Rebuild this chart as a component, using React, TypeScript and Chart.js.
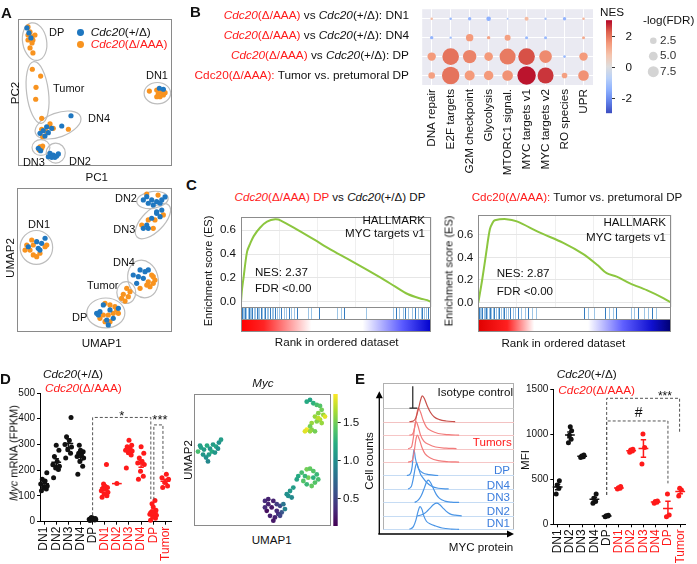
import React, { useEffect, useRef } from 'react';
import { Chart, registerables } from 'chart.js';

Chart.register(...registerables);

const FONT = '"Liberation Sans", Arial, Helvetica, sans-serif';
Chart.defaults.font.family = FONT;
Chart.defaults.color = '#111';

const BLUE = '#1f77c0';
const ORANGE = '#f8931f';
const RED = '#ff1a1a';
const INK = '#111111';
const LBLUE = '#3b7ddd';

// ================= A: PCA (scaled 0-100) =================
const pcaCtrl = [
  [5.8, 93.9], [7.1, 90.5], [8.4, 87.1],
  [34.4, 34.2], [28.4, 27.2], [18.6, 26.7], [16.4, 24], [14.3, 22.2], [17.5, 20.4], [21.9, 25.6], [19.7, 22.7],
  [14.7, 10.4], [13.2, 12],
  [20.8, 8.6], [22.9, 7.5], [25.1, 6.8], [19.7, 6.3], [26.2, 8.2], [21.9, 5.9], [24, 5.9],
  [91.8, 52.9], [94.4, 52.2],
];
const pcaMut = [
  [6.5, 94.6], [7.8, 91.2], [6.5, 89.1], [9.1, 87.8], [9.7, 85.7], [9.1, 83.7], [7.8, 80.3], [9.7, 76.9], [11, 89.1], [6.5, 85.7],
  [9.3, 65.8], [14.7, 61.2], [11.7, 53.5], [11.5, 45.4], [15.4, 32.4],
  [20.8, 28.6], [22.9, 25.6], [32.7, 25], [15.4, 25], [18.6, 23.4], [16, 20], [20.3, 26.9],
  [14.3, 13.1], [15.4, 12], [13.8, 10.9], [16, 13.6],
  [85.3, 51], [90.1, 51.7], [91.1, 49], [92.2, 47.1], [94.4, 48.3], [93.3, 50.5], [95.5, 49.9], [90.1, 47.1],
];
const pcaClusters = [
  { x: 10.8, y: 84.6, rx: 7.8, ry: 12.9, rot: -10 },
  { x: 12.7, y: 50, rx: 7.1, ry: 21.1, rot: -7 },
  { x: 26, y: 27.9, rx: 15.6, ry: 8.2, rot: -20 },
  { x: 14.9, y: 12.6, rx: 5.8, ry: 5.4, rot: 0 },
  { x: 24.5, y: 8.8, rx: 6.2, ry: 6.8, rot: 0 },
  { x: 90.5, y: 49.5, rx: 8.6, ry: 7.3, rot: 0 },
];
const pcaLabels = [
  { text: 'DP', x: 20.1, y: 90.5 }, { text: 'Tumor', x: 22.7, y: 52.4 }, { text: 'DN4', x: 45.5, y: 32 },
  { text: 'DN3', x: 3.2, y: 2 }, { text: 'DN2', x: 33.1, y: 2.7 }, { text: 'DN1', x: 83.1, y: 61.2 },
];

// ================= A: UMAP (scaled 0-100) =================
const umapCtrl = [
  [83.7, 94], [86.9, 91.7], [90.1, 90.5], [93.4, 91.7], [84.7, 89.4], [87.9, 88.2], [92.3, 89.4], [81.5, 91.7], [95.5, 93.8],
  [93.4, 84.7], [90.1, 82.4], [92.3, 80.1], [86.9, 79], [83.7, 74.3], [81.5, 72], [84.7, 72], [90.1, 83.5],
  [12.7, 62.7], [15.9, 61.6], [18.1, 65.1], [13.7, 58.1], [14.8, 56.9], [7.3, 59.2],
  [75, 39.6], [79.4, 43.1], [82.6, 41.9], [84.7, 43.1], [77.2, 33.8], [81.5, 37.3], [78.3, 38.4],
  [51.4, 13], [53.5, 14.1], [55.7, 18.8], [60, 15.3], [57.9, 8.3], [62.1, 9.5], [58.9, 4.9], [52.5, 11.8], [65.4, 16.5],
];
const umapMut = [
  [83.7, 95.8], [91, 95.1],
  [89, 77.8], [84.7, 77.8], [87.9, 72], [80.5, 74.3], [94.4, 81.3],
  [6.3, 60.4], [9.5, 63.9], [10.5, 60.4], [8.4, 56.9], [10.5, 53.5], [12.7, 52.3], [14.8, 54.7], [18.1, 59.2], [19.2, 60.4], [5.2, 56.9],
  [86.9, 39.6], [89, 36.1], [87.9, 33.8], [85.8, 31.5], [83.7, 32.6], [79.4, 30.3], [84.7, 34.9], [87.9, 38.4],
  [70.8, 30.3], [72.9, 28], [68.6, 26.2], [71.8, 24.5], [69.7, 21.5], [67.5, 23.4],
  [56.8, 19.9], [60, 18.8], [63.2, 17.6], [65.4, 13], [62.1, 13], [58.9, 11.8], [55.7, 11.8], [53.5, 9.5], [56.8, 7.2], [60, 7.2], [64.3, 15.3],
];
const umapClusters = [
  { x: 87.4, y: 91.7, rx: 10.2, ry: 5.9, rot: -8 },
  { x: 87.7, y: 77, rx: 14.5, ry: 7.5, rot: -45 },
  { x: 12.5, y: 58.7, rx: 10.5, ry: 11.8, rot: 0 },
  { x: 81.3, y: 36.8, rx: 9.7, ry: 13.2, rot: -15 },
  { x: 70.5, y: 27.4, rx: 6.1, ry: 7.6, rot: 0 },
  { x: 57.3, y: 13.2, rx: 12.3, ry: 10.4, rot: 0 },
];
const umapLabels = [
  { text: 'DN2', x: 63.2, y: 92.4 }, { text: 'DN3', x: 62.1, y: 70.8 }, { text: 'DN1', x: 7.1, y: 74.3 },
  { text: 'DN4', x: 61.9, y: 47.9 }, { text: 'Tumor', x: 45.2, y: 31.9 }, { text: 'DP', x: 35.5, y: 9.7 },
];

// ================= B: GSEA bubble matrix =================
const bPathways = ['DNA repair', 'E2F targets', 'G2M checkpoint', 'Glycolysis', 'MTORC1 signal.', 'MYC targets v1', 'MYC targets v2', 'RO species', 'UPR'];
const bNesDN1 = [0.9, -1.3, -1.4, -1.5, -1.0, 0.9, -1.1, -1.4, 1.0];
const bFdrDN1 = [0.9, 0.9, 1.3, 1.9, 0.6, 1.6, 0.8, 1.3, 0.9];
const bNesDN4 = [-1.4, -1.2, 1.5, 1.3, 1.4, -1.3, -1.3, 0, 1.2];
const bFdrDN4 = [1.3, 0.8, 3.3, 1.3, 2.6, 1.1, 1.1, null, 1.1];
const bNesDP = [1.5, 2.0, 1.8, 1.5, 1.9, 2.37, 1.7, -1.3, 1.5];
const bFdrDP = [3.8, 7.9, 6.3, 3.9, 7.6, 7.9, 5.9, 0.9, 3.8];
const bNesTumor = [1.4, 2.0, 1.5, 1.5, 1.6, 2.87, 2.6, 1.4, 1.6];
const bFdrTumor = [2.9, 8.3, 4.6, 4.3, 4.9, 8.8, 7.6, 2.4, 4.9];
const bSizeLegend = [2.5, 5.0, 7.5];
const bNesTicks = [2, 0, -2];

// ================= C: enrichment curves =================
const gseaDPRank = [0, 0.005, 0.014, 0.032, 0.049, 0.067, 0.1, 0.137, 0.18, 0.21, 0.3, 0.386, 0.47, 0.561, 0.65, 0.737, 0.81, 0.877, 0.947, 0.98, 1.0];
const gseaDPES = [0, 0.1, 0.21, 0.42, 0.49, 0.55, 0.62, 0.67, 0.69, 0.68, 0.6, 0.52, 0.44, 0.36, 0.28, 0.2, 0.13, 0.066, 0.027, 0.015, 0.0];
const gseaDPHits = [0.004, 0.01, 0.016, 0.022, 0.028, 0.035, 0.041, 0.047, 0.054, 0.06, 0.068, 0.075, 0.083, 0.09, 0.097, 0.104, 0.112, 0.12, 0.127, 0.135, 0.143, 0.152, 0.161, 0.17, 0.18, 0.19, 0.2, 0.212, 0.224, 0.236, 0.25, 0.265, 0.28, 0.295, 0.35, 0.37, 0.41, 0.505, 0.525, 0.54, 0.66, 0.8, 0.815, 0.83, 0.85, 0.865, 0.88, 0.9, 0.915, 0.93, 0.945, 0.955, 0.965, 0.975, 0.985, 0.995];
const gseaTuRank = [0, 0.02, 0.04, 0.06, 0.075, 0.086, 0.146, 0.2, 0.32, 0.441, 0.545, 0.62, 0.666, 0.718, 0.787, 0.874, 0.96, 1.0];
const gseaTuES = [0, 0.2, 0.43, 0.65, 0.71, 0.73, 0.74, 0.72, 0.62, 0.53, 0.43, 0.33, 0.26, 0.23, 0.17, 0.11, 0.04, 0.0];
const gseaTuHits = [0.003, 0.009, 0.015, 0.021, 0.027, 0.033, 0.04, 0.047, 0.054, 0.061, 0.068, 0.076, 0.084, 0.092, 0.1, 0.108, 0.117, 0.126, 0.135, 0.145, 0.155, 0.166, 0.178, 0.19, 0.205, 0.22, 0.24, 0.26, 0.28, 0.3, 0.55, 0.57, 0.6, 0.66, 0.68, 0.7, 0.715, 0.79, 0.81, 0.83, 0.86, 0.88, 0.9, 0.92];
const gseaTicks = [0, 0.2, 0.4, 0.6];

// ================= D: Myc mRNA =================
const dCats = ['DN1', 'DN2', 'DN3', 'DN4', 'DP', 'DN1', 'DN2', 'DN3', 'DN4', 'DP', 'Tumor'];
const dCtrlDN1 = [120, 127, 133, 139, 146, 158, 165, 190];
const dCtrlDN2 = [171, 203, 209, 215, 221, 234, 253, 278, 297];
const dCtrlDN3 = [247, 266, 280, 290, 300, 315, 330, 405];
const dCtrlDN4 = [184, 215, 234, 247, 253, 259, 266, 272, 278, 297];
const dCtrlDP = [5, 7, 8, 9, 10, 10, 12, 12, 14, 16];
const dMutDN1 = [95, 101, 108, 114, 120, 127, 130, 133, 139, 146, 222];
const dMutDN2 = [148];
const dMutDN3 = [209, 259, 268, 275, 278, 285, 291, 297, 316];
const dMutDN4 = [165, 177, 196, 222, 228, 234, 247, 266, 291];
const dMutDP = [6, 13, 19, 25, 29, 34, 38, 44, 57, 70, 82];
const dMutTumor = [133, 139, 152, 165, 171, 184];
const dTicks = [0, 100, 200, 300, 400, 500];

// D: UMAP colored by Myc  [UMAP1, UMAP2, Myc]
const mycDN1 = [[2.9, 56.4, 1.35], [5.1, 59.4, 1.15], [7.3, 57.9, 1.1], [9.5, 60.9, 1.2], [11.7, 58.6, 1.05], [13.9, 61.7, 1.1], [16.1, 60.2, 1.15], [18.2, 63.2, 1.0], [19.7, 65.4, 1.1], [6.6, 54.1, 1.05], [8.8, 51.9, 1.0], [10.9, 54.1, 1.1], [13.1, 56.4, 1.2], [4.4, 60.9, 1.1], [10.2, 48.9, 0.95], [15.3, 55.6, 1.05], [17.5, 58.6, 1.0]];
const mycTop = [[82.3, 94.2, 1.2], [84.7, 95.5, 1.15], [87.1, 93, 1.25], [89.6, 91.7, 1.35], [92, 91, 1.4], [93.2, 88, 1.5], [94.4, 84.2, 1.6], [95.6, 82.9, 1.8], [90.7, 85.5, 1.55], [88.3, 82.9, 1.6], [92, 80.5, 1.65], [89.6, 79.2, 1.55], [85.9, 78, 1.6], [84.7, 75.4, 1.5], [82.3, 72.9, 1.85], [85.9, 72.9, 1.55], [88.3, 71.7, 1.5], [84.7, 71.7, 1.6], [90.7, 81.7, 1.7], [93.2, 78, 1.6], [81, 71.7, 1.8]];
const mycMid = [[76.1, 37.8, 1.2], [78.6, 40.4, 1.35], [82.3, 42.9, 1.5], [84.7, 43.4, 1.45], [87.1, 41.6, 1.4], [89.6, 39.1, 1.3], [90.7, 35.3, 1.35], [88.3, 32.9, 1.4], [85.9, 30.3, 1.45], [82.3, 31.6, 1.3], [79.8, 34.1, 1.4], [83.4, 36.6, 1.5], [87.1, 36.6, 1.25], [75, 35.3, 1.15], [81, 37.8, 1.3]];
const mycBridge = [[67.7, 24.1, 1.0], [70.1, 26.5, 1.05], [72.5, 29.1, 1.1], [71.3, 21.6, 0.95], [68.8, 22.8, 1.0]];
const mycDP = [[51.8, 19, 0.35], [54.2, 20.3, 0.3], [57.9, 19, 0.3], [60.4, 16.5, 0.45], [62.8, 15.3, 0.5], [65.2, 16.5, 0.8], [66.4, 12.8, 0.9], [64, 10.3, 0.6], [61.5, 9, 0.4], [59.1, 6.5, 0.3], [57.9, 4, 0.25], [55.5, 7.7, 0.3], [53.1, 11.5, 0.2], [51.8, 14.1, 0.35], [56.7, 14.1, 0.25], [60.4, 11.5, 0.35], [62.8, 7.7, 0.5], [54.2, 16.5, 0.3]];
const mycRange = [0.135, 1.87];
const mycTicks = [0.5, 1.0, 1.5];

// ================= E: MYC protein histograms [intensity, density] =================
const histIsotype = [[20, 0], [22.1, 0], [22.4, 1.64], [22.7, 0], [26, 0]];
const histTumor1 = [[20, 0], [23, 0.05], [25, 0.3], [27, 1.0], [28.5, 1.6], [29.8, 1.92], [31.5, 1.7], [33.5, 1.2], [36, 0.7], [39, 0.35], [43, 0.15], [48, 0.05], [55, 0]];
const histTumor2 = [[20, 0], [22.5, 0.1], [24, 0.6], [25.5, 1.5], [26.8, 2.0], [28.5, 1.7], [30.5, 1.1], [33, 0.6], [37, 0.3], [42, 0.12], [50, 0.03], [58, 0]];
const histTumor3 = [[19, 0], [21.5, 0.1], [23, 0.8], [24, 1.6], [25, 2.0], [26.5, 1.7], [28.5, 1.0], [31, 0.55], [35, 0.3], [40, 0.12], [48, 0.03], [56, 0]];
const histTumor4 = [[19, 0], [22, 0.1], [23.5, 0.7], [25, 1.7], [26, 2.0], [27.5, 1.7], [29.5, 1.1], [32, 0.6], [36, 0.3], [42, 0.1], [50, 0.02], [58, 0]];
const histDP = [[18, 0], [20.5, 0.1], [22, 0.6], [23, 1.6], [23.5, 1.92], [24.5, 1.3], [25.5, 0.9], [27, 0.5], [30, 0.2], [35, 0.06], [42, 0]];
const histDN4 = [[19, 0], [21.5, 0.2], [23, 0.8], [24.5, 1.6], [25.5, 1.92], [27, 1.5], [28.5, 1.1], [30.5, 0.8], [33, 0.5], [37, 0.2], [42, 0.05], [50, 0]];
const histDN3 = [[24, 0], [26.5, 0.15], [29, 0.5], [31.5, 1.1], [33, 1.5], [34.4, 1.66], [36, 1.5], [38, 1.1], [40.5, 0.6], [43, 0.3], [47, 0.1], [52, 0.02], [58, 0]];
const histDN2 = [[26, 0], [30, 0.1], [33, 0.3], [36, 0.6], [38.5, 0.85], [40.9, 0.95], [43, 0.85], [45.5, 0.6], [48, 0.35], [51, 0.15], [55, 0.05], [60, 0]];
const histDN1 = [[20, 0], [23, 0.2], [25, 0.7], [26.5, 1.3], [28.1, 1.69], [29.5, 1.5], [31, 1.0], [33, 0.6], [36, 0.4], [40, 0.25], [45, 0.1], [52, 0.02], [58, 0]];

// E: MFI
const eCtrlDN1 = [337, 400, 437, 485];
const eCtrlDN2 = [905, 945, 990, 1040, 1085];
const eCtrlDN3 = [741, 750, 759, 770];
const eCtrlDN4 = [233, 252, 289, 337];
const eCtrlDP = [85, 93, 96, 100];
const eMutDN1 = [393, 400, 405, 419];
const eMutDN2 = [800, 815, 826, 833];
const eMutDN3 = [670, 852, 1004];
const eMutDN4 = [233, 244, 252, 259];
const eMutDP = [85, 104, 337];
const eMutTumor = [315, 381, 400];
const eTicks = [0, 500, 1000, 1500];

// ================= helpers =================
const COOLWARM = [[59, 76, 192], [98, 130, 234], [141, 176, 254], [184, 208, 249], [221, 221, 221], [245, 196, 173], [244, 154, 123], [222, 96, 77], [180, 4, 38]];
const VIRIDIS = [[68, 1, 84], [71, 44, 122], [59, 81, 139], [44, 113, 142], [33, 144, 141], [39, 173, 129], [92, 200, 99], [170, 220, 50], [253, 231, 37]];
function lerpColor(stops: number[][], t: number) {
  const tt = Math.max(0, Math.min(1, t));
  const n = stops.length - 1;
  const i = Math.min(n - 1, Math.floor(tt * n));
  const f = tt * n - i;
  const a = stops[i], b = stops[i + 1];
  const c = a.map((v, k) => Math.round(v + (b[k] - v) * f));
  return `rgb(${c[0]},${c[1]},${c[2]})`;
}
const coolwarm = (nes: number) => lerpColor(COOLWARM, (nes + 3) / 6);
const viridis = (v: number) => lerpColor(VIRIDIS, (v - mycRange[0]) / (mycRange[1] - mycRange[0]));

const baseOptions = (extra: any) => ({
  animation: false,
  responsive: false,
  maintainAspectRatio: false,
  events: [],
  plugins: { legend: { display: false }, tooltip: { enabled: false } },
  ...extra,
});

const frameRect = (ctx: any, a: any, color: string, bottom?: number) => {
  ctx.save();
  ctx.strokeStyle = color;
  ctx.lineWidth = 1;
  const b = bottom ?? a.bottom;
  ctx.strokeRect(Math.round(a.left) + 0.5, Math.round(a.top) + 0.5, Math.round(a.right - a.left) - 1, Math.round(b - a.top) - 1);
  ctx.restore();
};

// ---------- A scatter ----------
function makeClusterChart(ctrl: number[][], mut: number[][], clusters: any[], labels: any[], padding: any) {
  return {
    type: 'scatter',
    data: {
      datasets: [
        { data: ctrl.map(([x, y]) => ({ x, y })), backgroundColor: BLUE, borderWidth: 0, pointRadius: 2.6, clip: false },
        { data: mut.map(([x, y]) => ({ x, y })), backgroundColor: ORANGE, borderWidth: 0, pointRadius: 2.6, clip: false },
      ],
    },
    options: baseOptions({
      layout: { padding },
      scales: {
        x: { type: 'linear', display: false, min: 0, max: 100 },
        y: { type: 'linear', display: false, min: 0, max: 100 },
      },
    }),
    plugins: [{
      id: 'clusters',
      beforeDatasetsDraw(chart: any) {
        const { ctx, chartArea: a, scales: { x, y } } = chart;
        frameRect(ctx, a, '#8a8a8a');
        ctx.save();
        ctx.strokeStyle = '#bdbdbd';
        ctx.lineWidth = 1.2;
        clusters.forEach((c) => {
          const cx = x.getPixelForValue(c.x), cy = y.getPixelForValue(c.y);
          const rx = Math.abs(x.getPixelForValue(c.x + c.rx) - cx);
          const ry = Math.abs(y.getPixelForValue(c.y + c.ry) - cy);
          ctx.beginPath();
          ctx.ellipse(cx, cy, rx, ry, (c.rot * Math.PI) / 180, 0, Math.PI * 2);
          ctx.stroke();
        });
        ctx.restore();
      },
      afterDatasetsDraw(chart: any) {
        const { ctx, scales: { x, y } } = chart;
        ctx.save();
        ctx.fillStyle = INK;
        ctx.font = `11px ${FONT}`;
        ctx.textAlign = 'left';
        ctx.textBaseline = 'middle';
        labels.forEach((l) => ctx.fillText(l.text, x.getPixelForValue(l.x), y.getPixelForValue(l.y)));
        ctx.restore();
      },
    }],
  };
}

// ---------- B bubble ----------
function makeBubbleChart() {
  const rows = [
    { nes: bNesDN1, fdr: bFdrDN1 }, { nes: bNesDN4, fdr: bFdrDN4 },
    { nes: bNesDP, fdr: bFdrDP }, { nes: bNesTumor, fdr: bFdrTumor },
  ];
  const pts: any[] = [];
  const cols: string[] = [];
  rows.forEach((row, r) => row.fdr.forEach((v: any, c: number) => {
    if (v == null) return;
    pts.push({ x: c, y: r, r: 0.4 + v });
    cols.push(coolwarm(row.nes[c]));
  }));
  const cbMid = 66.7, cbUnit = 15.5;
  return {
    type: 'bubble',
    data: { datasets: [{ data: pts, backgroundColor: cols, borderWidth: 0, clip: false }] },
    options: baseOptions({
      layout: { padding: { left: 5, top: 5, right: 104, bottom: 0 } },
      scales: {
        x: {
          type: 'linear', min: -0.5, max: 8.5,
          afterBuildTicks: (s: any) => { s.ticks = bPathways.map((_, i) => ({ value: i })); },
          ticks: { callback: (v: any) => bPathways[v], minRotation: 90, maxRotation: 90, autoSkip: false, font: { size: 11.7 }, color: INK, padding: 4 },
          grid: { color: '#ffffff', lineWidth: 1, drawTicks: false },
          border: { display: false },
          afterFit: (s: any) => { s.height = 93; },
        },
        y: {
          type: 'linear', min: -0.5, max: 3.5, reverse: true,
          afterBuildTicks: (s: any) => { s.ticks = [0, 1, 2, 3].map((v) => ({ value: v })); },
          ticks: { display: false },
          grid: { color: '#ffffff', lineWidth: 1, drawTicks: false },
          border: { display: false },
          afterFit: (s: any) => { s.width = 0; },
        },
      },
    }),
    plugins: [{
      id: 'bBg',
      beforeDraw(chart: any) {
        const { ctx, chartArea: a } = chart;
        ctx.save();
        ctx.fillStyle = '#eaeaf2';
        ctx.fillRect(a.left, a.top, a.right - a.left, a.bottom - a.top);
        ctx.restore();
      },
      afterDraw(chart: any) {
        const { ctx, chartArea: a } = chart;
        ctx.save();
        const x0 = a.right + 13, w = 6;
        const yOf = (v: number) => cbMid - cbUnit * v;
        const g = ctx.createLinearGradient(0, yOf(3), 0, yOf(-3));
        for (let i = 0; i <= 8; i++) g.addColorStop(i / 8, lerpColor(COOLWARM, 1 - i / 8));
        ctx.fillStyle = g;
        ctx.fillRect(x0, yOf(3), w, yOf(-3) - yOf(3));
        ctx.strokeStyle = '#333';
        ctx.lineWidth = 1;
        ctx.fillStyle = INK;
        ctx.font = `11.7px ${FONT}`;
        ctx.textAlign = 'right';
        ctx.textBaseline = 'middle';
        bNesTicks.forEach((v) => {
          const yy = Math.round(yOf(v)) + 0.5;
          ctx.beginPath(); ctx.moveTo(x0 + w, yy); ctx.lineTo(x0 + w + 3, yy); ctx.stroke();
          ctx.fillText(String(v), a.right + 39, yy);
        });
        ctx.textAlign = 'left';
        ctx.fillStyle = '#333';
        bSizeLegend.forEach((v, i) => {
          const cy = 40.7 + i * 15.5;
          ctx.beginPath();
          ctx.fillStyle = '#d4d4d4';
          ctx.arc(a.right + 60.3, cy, 2.2 + 0.44 * v, 0, Math.PI * 2);
          ctx.fill();
          ctx.fillStyle = '#333';
          ctx.fillText(v.toFixed(1), a.right + 67, cy);
        });
        ctx.restore();
      },
    }],
  };
}

// ---------- C enrichment ----------
function makeGseaChart(xs: number[], es: number[], hits: number[], ymin: number, ymax: number, yWidth: number, padding: any, stops: any[]) {
  return {
    type: 'line',
    data: { datasets: [{ data: xs.map((x, i) => ({ x, y: es[i] })), borderColor: '#8cc63f', borderWidth: 2, pointRadius: 0, tension: 0.3, fill: false }] },
    options: baseOptions({
      layout: { padding },
      scales: {
        x: {
          type: 'linear', min: 0, max: 1,
          afterBuildTicks: (s: any) => { s.ticks = [0, 0.2, 0.4, 0.6, 0.8, 1].map((v) => ({ value: v })); },
          ticks: { display: false }, grid: { color: '#efefef', drawTicks: false }, border: { display: false },
          afterFit: (s: any) => { s.height = 0; },
        },
        y: {
          type: 'linear', min: ymin, max: ymax,
          afterBuildTicks: (s: any) => { s.ticks = gseaTicks.map((v) => ({ value: v })); },
          ticks: { callback: (v: any) => Number(v).toFixed(1), font: { size: 11.6 }, color: INK, padding: 5 },
          grid: { color: '#e6e6e6', drawTicks: false }, border: { display: false },
          afterFit: (s: any) => { s.width = yWidth; },
        },
      },
    }),
    plugins: [{
      id: 'gseaExtras',
      afterDatasetsDraw(chart: any) {
        const { ctx, chartArea: a, scales: { x } } = chart;
        const hTop = a.bottom, hBot = a.bottom + 12.3, cBot = a.bottom + 25;
        ctx.save();
        ctx.lineWidth = 1;
        hits.forEach((h, i) => {
          const px = Math.round(x.getPixelForValue(h)) + 0.5;
          ctx.strokeStyle = i % 3 === 0 ? 'rgba(30,110,185,0.9)' : 'rgba(60,140,205,0.5)';
          ctx.beginPath(); ctx.moveTo(px, hTop + 1); ctx.lineTo(px, hBot); ctx.stroke();
        });
        const g = ctx.createLinearGradient(a.left, 0, a.right, 0);
        stops.forEach(([o, c]: any) => g.addColorStop(o, c));
        ctx.fillStyle = g;
        ctx.fillRect(a.left, hBot, a.right - a.left, cBot - hBot);
        ctx.strokeStyle = '#8c8c8c';
        [hTop, hBot].forEach((yy) => {
          const py = Math.round(yy) + 0.5;
          ctx.beginPath(); ctx.moveTo(a.left, py); ctx.lineTo(a.right, py); ctx.stroke();
        });
        ctx.restore();
        frameRect(ctx, a, '#8c8c8c', cBot);
      },
    }],
  };
}

// ---------- D / E dot plots ----------
function makeDotChart(o: any) {
  const colors = o.cats.map((_: any, i: number) => (i < 5 ? INK : RED));
  return {
    type: 'scatter',
    data: {
      datasets: o.groups.map((vals: number[], i: number) => ({
        data: vals.map((v, j) => ({ x: i + (vals.length > 1 ? o.jitter[j % o.jitter.length] : 0), y: v })),
        backgroundColor: colors[i], borderWidth: 0, pointRadius: 2.5, clip: false,
      })),
    },
    options: baseOptions({
      layout: { padding: o.padding },
      scales: {
        x: {
          type: 'linear', min: o.xMin, max: o.xMax,
          afterBuildTicks: (s: any) => { s.ticks = o.cats.map((_: any, i: number) => ({ value: i })); },
          ticks: { callback: (v: any) => o.cats[v], minRotation: 90, maxRotation: 90, autoSkip: false, font: { size: 12 }, color: (c: any) => colors[c.index], padding: 2 },
          grid: { display: true, drawOnChartArea: false, drawTicks: true, tickLength: 3, color: '#000' },
          border: { display: true, color: '#000', width: 1 },
          afterFit: (s: any) => { s.height = o.xHeight; },
        },
        y: {
          type: 'linear', min: 0, max: o.yMax,
          afterBuildTicks: (s: any) => { s.ticks = o.yTicks.map((v: number) => ({ value: v })); },
          ticks: { callback: (v: any) => String(v), font: { size: 10 }, color: INK, padding: 2 },
          grid: { display: true, drawOnChartArea: false, drawTicks: true, tickLength: 3, color: '#000' },
          border: { display: true, color: '#000', width: 1 },
          afterFit: (s: any) => { s.width = o.yWidth; },
        },
      },
    }),
    plugins: [{
      id: 'meanSem',
      afterDatasetsDraw(chart: any) {
        const { ctx, scales: { x, y } } = chart;
        const unit = x.getPixelForValue(1) - x.getPixelForValue(0);
        ctx.save();
        ctx.lineWidth = 1.5;
        o.groups.forEach((vals: number[], i: number) => {
          const n = vals.length;
          const m = vals.reduce((s, v) => s + v, 0) / n;
          const sd = n > 1 ? Math.sqrt(vals.reduce((s, v) => s + (v - m) * (v - m), 0) / (n - 1)) : 0;
          const se = sd / Math.sqrt(n);
          const cx = x.getPixelForValue(i);
          ctx.strokeStyle = colors[i];
          ctx.beginPath();
          ctx.moveTo(cx - 0.4 * unit, y.getPixelForValue(m));
          ctx.lineTo(cx + 0.4 * unit, y.getPixelForValue(m));
          if (se > 0) {
            const y1 = y.getPixelForValue(m - se), y2 = y.getPixelForValue(m + se);
            ctx.moveTo(cx, y1); ctx.lineTo(cx, y2);
            ctx.moveTo(cx - 0.22 * unit, y1); ctx.lineTo(cx + 0.22 * unit, y1);
            ctx.moveTo(cx - 0.22 * unit, y2); ctx.lineTo(cx + 0.22 * unit, y2);
          }
          ctx.stroke();
        });
        ctx.strokeStyle = '#555';
        ctx.lineWidth = 1;
        ctx.setLineDash([3, 2]);
        o.brackets.forEach((b: any) => {
          ctx.beginPath();
          ctx.moveTo(x.getPixelForValue(b.x1), y.getPixelForValue(b.y1));
          ctx.lineTo(x.getPixelForValue(b.x1), y.getPixelForValue(b.top));
          ctx.lineTo(x.getPixelForValue(b.x2), y.getPixelForValue(b.top));
          ctx.lineTo(x.getPixelForValue(b.x2), y.getPixelForValue(b.y2));
          ctx.stroke();
        });
        ctx.setLineDash([]);
        ctx.fillStyle = INK;
        ctx.textAlign = 'center';
        ctx.textBaseline = 'middle';
        o.brackets.forEach((b: any) => {
          ctx.font = `${b.size}px ${FONT}`;
          ctx.fillText(b.label, x.getPixelForValue(b.lx), y.getPixelForValue(b.ly));
        });
        ctx.restore();
      },
    }],
  };
}

// ---------- D UMAP Myc ----------
function makeMycChart() {
  const all = [...mycDN1, ...mycTop, ...mycMid, ...mycBridge, ...mycDP];
  return {
    type: 'scatter',
    data: { datasets: [{ data: all.map(([x, y]) => ({ x, y })), backgroundColor: all.map((p) => viridis(p[2])), borderWidth: 0, pointRadius: 2.4, clip: false }] },
    options: baseOptions({
      layout: { padding: { left: 4, top: 6, right: 29, bottom: 3 } },
      scales: {
        x: { type: 'linear', display: false, min: 0, max: 100 },
        y: { type: 'linear', display: false, min: 0, max: 100 },
      },
    }),
    plugins: [{
      id: 'mycExtras',
      afterDraw(chart: any) {
        const { ctx, chartArea: a } = chart;
        frameRect(ctx, a, '#8a8a8a');
        const x0 = a.right + 2.3, w = 4.4;
        const yOf = (v: number) => a.bottom - ((v - mycRange[0]) / (mycRange[1] - mycRange[0])) * (a.bottom - a.top);
        ctx.save();
        const g = ctx.createLinearGradient(0, a.bottom, 0, a.top);
        for (let i = 0; i <= 8; i++) g.addColorStop(i / 8, lerpColor(VIRIDIS, i / 8));
        ctx.fillStyle = g;
        ctx.fillRect(x0, a.top, w, a.bottom - a.top);
        ctx.strokeStyle = '#222';
        ctx.lineWidth = 1;
        ctx.fillStyle = INK;
        ctx.font = `11.6px ${FONT}`;
        ctx.textAlign = 'left';
        ctx.textBaseline = 'middle';
        mycTicks.forEach((v) => {
          const yy = Math.round(yOf(v)) + 0.5;
          ctx.beginPath(); ctx.moveTo(x0 + w, yy); ctx.lineTo(x0 + w + 3, yy); ctx.stroke();
          ctx.fillText(v.toFixed(1), a.right + 12, yy);
        });
        ctx.restore();
      },
    }],
  };
}

// ---------- E histograms ----------
function makeHistChart() {
  const ridges = [
    { d: histIsotype, base: 9, color: '#222222', line: '#c9c9c9', tension: 0 },
    { d: histTumor1, base: 8, color: '#c8504a', line: '#f3c2c2', tension: 0.4 },
    { d: histTumor2, base: 7, color: '#f27b7b', line: '#f6c6c6', tension: 0.4 },
    { d: histTumor3, base: 6, color: '#f27b7b', line: '#f6c6c6', tension: 0.4 },
    { d: histTumor4, base: 5, color: '#f27b7b', line: '#f6c6c6', tension: 0.4 },
    { d: histDP, base: 4, color: '#4a95e6', line: '#c6dcf4', tension: 0.4 },
    { d: histDN4, base: 3, color: '#4a95e6', line: '#c6dcf4', tension: 0.4 },
    { d: histDN3, base: 2, color: '#4a95e6', line: '#c6dcf4', tension: 0.4 },
    { d: histDN2, base: 1, color: '#4a95e6', line: '#c6dcf4', tension: 0.4 },
    { d: histDN1, base: 0, color: '#4a95e6', line: '#c6dcf4', tension: 0.4 },
  ];
  return {
    type: 'line',
    data: {
      datasets: ridges.map((r) => ({
        data: r.d.map(([x, h]) => ({ x, y: r.base + h })),
        borderColor: r.color, borderWidth: 1.2, pointRadius: 0, tension: r.tension, cubicInterpolationMode: r.tension ? 'monotone' : 'default', fill: false, clip: false,
      })),
    },
    options: baseOptions({
      layout: { padding: { left: 8.3, top: 5.3, right: 6, bottom: 10 } },
      scales: {
        x: { type: 'linear', display: false, min: 0, max: 100 },
        y: { type: 'linear', display: false, min: -0.05, max: 10.85 },
      },
    }),
    plugins: [{
      id: 'histExtras',
      beforeDatasetsDraw(chart: any) {
        const { ctx, chartArea: a, scales: { y } } = chart;
        frameRect(ctx, a, '#b0b0b0');
        ctx.save();
        ctx.lineWidth = 1;
        ridges.forEach((r) => {
          const py = Math.round(y.getPixelForValue(r.base)) + 0.5;
          ctx.strokeStyle = r.line;
          ctx.beginPath(); ctx.moveTo(a.left, py); ctx.lineTo(a.right, py); ctx.stroke();
        });
        ctx.restore();
      },
      afterDraw(chart: any) {
        const { ctx, chartArea: a } = chart;
        ctx.save();
        ctx.strokeStyle = '#000';
        ctx.fillStyle = '#000';
        ctx.lineWidth = 1.3;
        const ax = a.left - 4, ay = a.bottom + 4;
        ctx.beginPath(); ctx.moveTo(ax, ay); ctx.lineTo(ax, a.top + 12); ctx.stroke();
        ctx.beginPath(); ctx.moveTo(ax, a.top + 8); ctx.lineTo(ax - 3.5, a.top + 15); ctx.lineTo(ax + 3.5, a.top + 15); ctx.closePath(); ctx.fill();
        ctx.beginPath(); ctx.moveTo(ax - 1, ay); ctx.lineTo(a.right - 4, ay); ctx.stroke();
        ctx.beginPath(); ctx.moveTo(a.right, ay); ctx.lineTo(a.right - 7, ay - 3.5); ctx.lineTo(a.right - 7, ay + 3.5); ctx.closePath(); ctx.fill();
        ctx.restore();
      },
    }],
  };
}

// ================= components =================
function ChartBox({ left, top, width, height, config }: any) {
  const ref = useRef<HTMLCanvasElement | null>(null);
  useEffect(() => {
    const chart = new Chart(ref.current as HTMLCanvasElement, config());
    return () => chart.destroy();
  }, []);
  return <canvas ref={ref} width={width} height={height} style={{ position: 'absolute', left, top, width, height }} />;
}

function T({ x, y, a = 'l', rot = 0, size = 11.6, color = INK, bold = false, children }: any) {
  const tx = a === 'l' ? '0' : a === 'c' ? '-50%' : '-100%';
  const transform = rot ? `translate(-50%,-50%) rotate(${rot}deg)` : `translate(${tx},-50%)`;
  return (
    <div style={{ position: 'absolute', left: x, top: y, transform, whiteSpace: 'nowrap', lineHeight: 1, fontSize: size, color, fontWeight: bold ? 700 : 400, fontFamily: FONT }}>
      {children}
    </div>
  );
}
const R = ({ children }: any) => <span style={{ color: RED }}>{children}</span>;
const Dot = ({ x, y, r, color }: any) => (
  <div style={{ position: 'absolute', left: x - r, top: y - r, width: 2 * r, height: 2 * r, borderRadius: '50%', background: color }} />
);

const dJitter = [-0.22, 0.18, -0.05, 0.26, -0.28, 0.08, -0.15, 0.22, 0.0, -0.1, 0.14];
const eJitter = [-0.12, 0.1, -0.04, 0.14, 0.03];

export default function App() {
  return (
    <div style={{ position: 'absolute', left: 0, top: 0, width: 697, height: 564, background: '#fff', overflow: 'hidden', fontFamily: FONT }}>
      {/* A */}
      <ChartBox left={8} top={10} width={170} height={170} config={() => makeClusterChart(pcaCtrl, pcaMut, pcaClusters, pcaLabels, { left: 10, top: 9, right: 6, bottom: 14 })} />
      <ChartBox left={8} top={180} width={170} height={160} config={() => makeClusterChart(umapCtrl, umapMut, umapClusters, umapLabels, { left: 9, top: 8, right: 6, bottom: 8 })} />
      {/* B */}
      <ChartBox left={413} top={0} width={284} height={178} config={makeBubbleChart} />
      {/* C */}
      <ChartBox left={200} top={205} width={236} height={132} config={() => makeGseaChart(gseaDPRank, gseaDPES, gseaDPHits, -0.04, 0.71, 41, { left: 0, top: 6.7, right: 5, bottom: 30.3 }, [[0, '#ff0000'], [0.12, '#ff2424'], [0.37, '#ffffff'], [0.64, '#ffffff'], [0.85, '#5a5aff'], [1, '#0000cc']])} />
      <ChartBox left={438} top={203} width={238} height={134} config={() => makeGseaChart(gseaTuRank, gseaTuES, gseaTuHits, -0.037, 0.777, 40.3, { left: 0, top: 7, right: 5, bottom: 30.3 }, [[0, '#e00000'], [0.15, '#ff2020'], [0.29, '#ffffff'], [0.57, '#ffffff'], [0.75, '#6060ff'], [0.9, '#1010d0'], [1, '#000070']])} />
      {/* D */}
      <ChartBox left={0} top={385} width={182} height={177} config={() => makeDotChart({
        cats: dCats,
        groups: [dCtrlDN1, dCtrlDN2, dCtrlDN3, dCtrlDN4, dCtrlDP, dMutDN1, dMutDN2, dMutDN3, dMutDN4, dMutDP, dMutTumor],
        jitter: dJitter, xMin: -0.34, xMax: 10.5, yMax: 500, yTicks: dTicks, yWidth: 40, xHeight: 40.3,
        padding: { left: 0, top: 5, right: 5, bottom: 0 },
        brackets: [
          { x1: 4, y1: 25, x2: 8.8, y2: 88, top: 405, label: '*', lx: 6.4, ly: 410, size: 13 },
          { x1: 9.05, y1: 85, x2: 9.8, y2: 196, top: 376, label: '***', lx: 9.55, ly: 392, size: 13 },
        ],
      })} />
      <ChartBox left={190} top={388} width={170} height={142} config={makeMycChart} />
      {/* E */}
      <ChartBox left={375} top={378} width={145} height={162} config={makeHistChart} />
      <ChartBox left={520} top={380} width={177} height={183} config={() => makeDotChart({
        cats: dCats,
        groups: [eCtrlDN1, eCtrlDN2, eCtrlDN3, eCtrlDN4, eCtrlDP, eMutDN1, eMutDN2, eMutDN3, eMutDN4, eMutDP, eMutTumor],
        jitter: eJitter, xMin: -0.355, xMax: 10.43, yMax: 1500, yTicks: eTicks, yWidth: 33.3, xHeight: 38.7,
        padding: { left: 0, top: 9.3, right: 10, bottom: 0 },
        brackets: [
          { x1: 4, y1: 326, x2: 9.95, y2: 1011, top: 1400, label: '***', lx: 8.75, ly: 1422, size: 12 },
          { x1: 4, y1: 326, x2: 9, y2: 455, top: 1148, label: '#', lx: 6.6, ly: 1233, size: 14 },
        ],
      })} />

      {/* panel letters */}
      <T x={1} y={11.5} size={15} bold>A</T>
      <T x={190} y={11} size={15} bold>B</T>
      <T x={186} y={184} size={15} bold>C</T>
      <T x={0} y={377.5} size={15} bold>D</T>
      <T x={355} y={378} size={15} bold>E</T>

      {/* A texts */}
      <T x={15} y={92.5} rot={-90}>PC2</T>
      <T x={96.7} y={176.7} a="c">PC1</T>
      <T x={10} y={257.5} rot={-90}>UMAP2</T>
      <T x={101.7} y={343} a="c">UMAP1</T>
      <Dot x={80.7} y={32.7} r={3.4} color={BLUE} />
      <Dot x={80.7} y={44.3} r={3.4} color={ORANGE} />
      <T x={90.7} y={33} size={11.8}><i>Cdc20</i>(+/Δ)</T>
      <T x={90.7} y={44.5} size={11.8} color={RED}><i>Cdc20</i>(Δ/AAA)</T>

      {/* B texts */}
      <T x={409} y={15.5} a="r" size={11.8}><R><i>Cdc20</i>(Δ/AAA)</R> vs <i>Cdc20</i>(+/Δ): DN1</T>
      <T x={409} y={35.5} a="r" size={11.8}><R><i>Cdc20</i>(Δ/AAA)</R> vs <i>Cdc20</i>(+/Δ): DN4</T>
      <T x={409} y={55.5} a="r" size={11.8}><R><i>Cdc20</i>(Δ/AAA)</R> vs <i>Cdc20</i>(+/Δ): DP</T>
      <T x={409} y={75.5} a="r" size={11.8}><R>Cdc20(Δ/AAA):</R> Tumor vs. pretumoral DP</T>
      <T x={600} y={12.2} size={11.7}>NES</T>
      <T x={643} y={20} size={11.7}>-log(FDR)</T>

      {/* C texts */}
      <T x={330} y={196.7} a="c"><R><i>Cdc20</i>(Δ/AAA) DP</R> vs <i>Cdc20</i>(+/Δ) DP</T>
      <T x={577} y={196.7} a="c"><R>Cdc20(Δ/AAA):</R> Tumor vs. pretumoral DP</T>
      <T x={425} y={220} a="r">HALLMARK</T>
      <T x={425} y={233.3} a="r">MYC targets v1</T>
      <T x={255} y={272.3}>NES: 2.37</T>
      <T x={255} y={287.7}>FDR &lt;0.00</T>
      <T x={666} y={222.3} a="r">HALLMARK</T>
      <T x={666} y={236.7} a="r">MYC targets v1</T>
      <T x={496.7} y={273.3}>NES: 2.87</T>
      <T x={496.7} y={291}>FDR &lt;0.00</T>
      <T x={208.3} y={270.8} rot={-90} size={11}>Enrichment score (ES)</T>
      <T x={449} y={270.7} rot={-90} size={11}>Enrichment score (ES)</T>
      <T x={336.7} y={341.7} a="c">Rank in ordered dataset</T>
      <T x={563.3} y={343} a="c">Rank in ordered dataset</T>

      {/* D texts */}
      <T x={43} y={375} size={11.8}><i>Cdc20</i>(+/Δ)</T>
      <T x={45} y={388.5} size={11.8} color={RED}><i>Cdc20</i>(Δ/AAA)</T>
      <T x={13.5} y={452.5} rot={-90} size={11}><i>Myc</i> mRNA (FPKM)</T>
      <T x={263} y={383} a="c"><i>Myc</i></T>
      <T x={271.7} y={540} a="c">UMAP1</T>
      <T x={188.3} y={460} rot={-90}>UMAP2</T>

      {/* E texts */}
      <T x={513} y={391.7} a="r">Isotype control</T>
      <T x={511.7} y={441.7} a="r" color={RED}>Tumors</T>
      <T x={510} y={470} a="r" color={LBLUE}>DP</T>
      <T x={510} y={485} a="r" color={LBLUE}>DN4</T>
      <T x={510} y={497.3} a="r" color={LBLUE}>DN3</T>
      <T x={510} y={510.7} a="r" color={LBLUE}>DN2</T>
      <T x={510} y={523.3} a="r" color={LBLUE}>DN1</T>
      <T x={369.3} y={461} rot={-90}>Cell counts</T>
      <T x={481} y={546.7} a="c">MYC protein</T>
      <T x={556.7} y={375} size={11.8}><i>Cdc20</i>(+/Δ)</T>
      <T x={558.3} y={390.5} size={11.8} color={RED}><i>Cdc20</i>(Δ/AAA)</T>
      <T x={525} y={460} rot={-90}>MFI</T>
    </div>
  );
}
